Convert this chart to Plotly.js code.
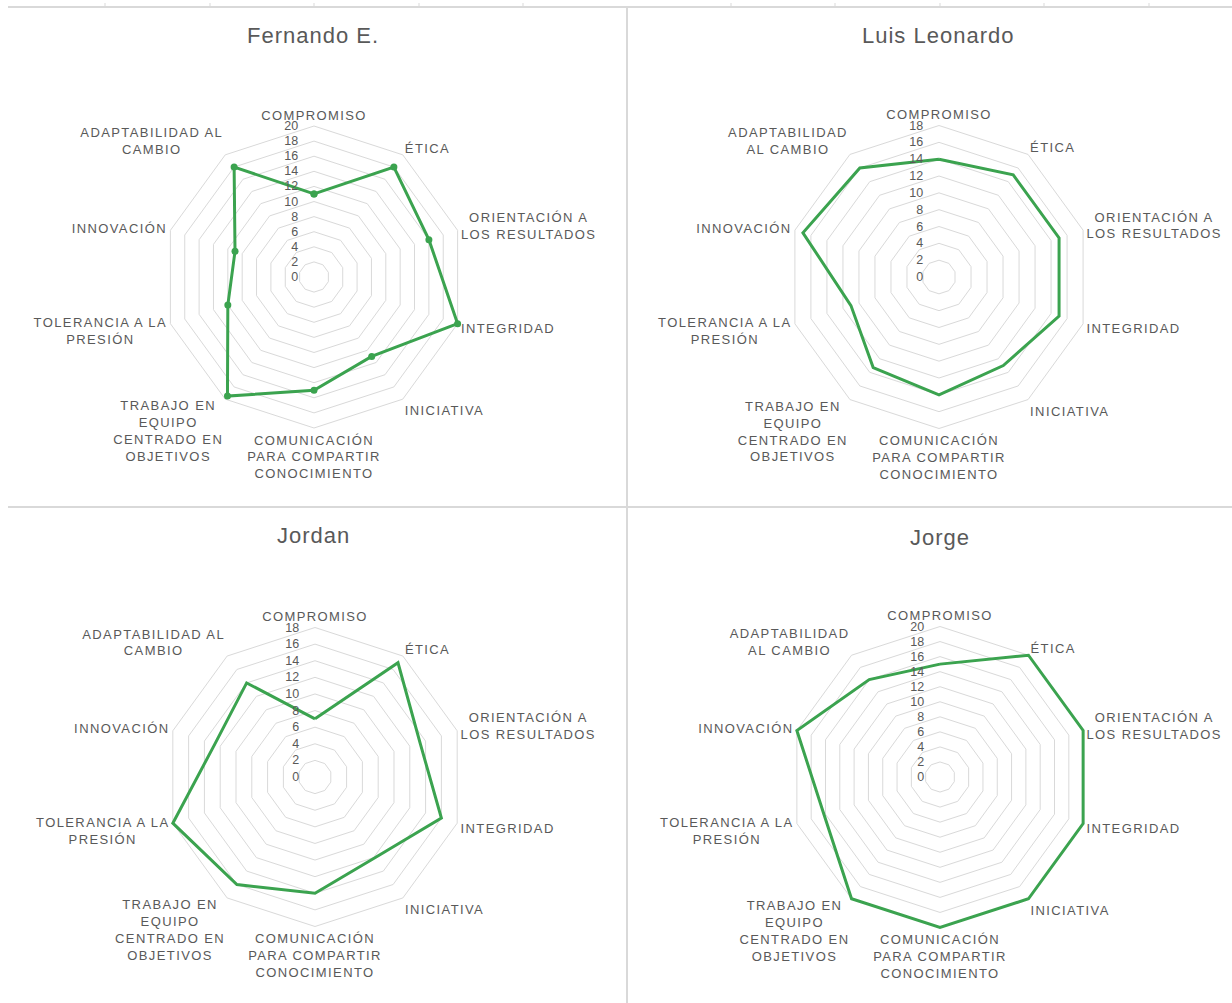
<!DOCTYPE html>
<html>
<head>
<meta charset="utf-8">
<script src="https://cdn.plot.ly/plotly-3.0.1.min.js"></script>
<style>
  html, body { margin: 0; padding: 0; background: #ffffff; }
  #chart { width: 1232px; height: 1003px; }
  .angularaxistick text { letter-spacing: 1.4px; }
  .radialaxistick text { letter-spacing: 1.2px; }
  .annotation-text { letter-spacing: 1px; }
</style>
</head>
<body>
<div id="chart"></div>
<script>
// ---- Data ----
const categories = [
  "COMPROMISO", "ÉTICA", "ORIENTACIÓN A LOS RESULTADOS", "INTEGRIDAD", "INICIATIVA",
  "COMUNICACIÓN PARA COMPARTIR CONOCIMIENTO", "TRABAJO EN EQUIPO CENTRADO EN OBJETIVOS",
  "TOLERANCIA A LA PRESIÓN", "INNOVACIÓN", "ADAPTABILIDAD AL CAMBIO"
];
const labelsA = [
  "COMPROMISO", "ÉTICA", "ORIENTACIÓN A<br>LOS RESULTADOS", "INTEGRIDAD", "INICIATIVA",
  "COMUNICACIÓN<br>PARA COMPARTIR<br>CONOCIMIENTO", "TRABAJO EN<br>EQUIPO<br>CENTRADO EN<br>OBJETIVOS",
  "TOLERANCIA A LA<br>PRESIÓN", "INNOVACIÓN", "ADAPTABILIDAD AL<br>CAMBIO"
];
const labelsB = [
  "COMPROMISO", "ÉTICA", "ORIENTACIÓN A<br>LOS RESULTADOS", "INTEGRIDAD", "INICIATIVA",
  "COMUNICACIÓN<br>PARA COMPARTIR<br>CONOCIMIENTO", "TRABAJO EN<br>EQUIPO<br>CENTRADO EN<br>OBJETIVOS",
  "TOLERANCIA A LA<br>PRESIÓN", "INNOVACIÓN", "ADAPTABILIDAD<br>AL CAMBIO"
];
const names = ["Fernando E.", "Luis Leonardo", "Jordan", "Jorge"];
const fernando = [11, 18, 16, 20, 13, 15, 19.5, 12, 11, 18];
const luis     = [14, 15, 15, 15, 13, 14, 13.3, 11, 17, 16];
const jordan   = [7, 17, 13.3, 16, 12.1, 14, 16, 18, 12.7, 14];
const jorge    = [15, 20, 20, 20, 20, 20, 20, 16.2, 20, 16];
const axisMax  = [20, 18, 18, 20];

// ---- Layout helpers ----
const W = 1232, H = 1003;
const green = "#3BA34F";
const txt = "#595959";
const grid = "#d9d9d9";
const FONT = "Liberation Sans, Arial, sans-serif";
const PAD = 1.02; // small headroom so lines at the top value are not clipped

// panel geometry: center (px) and radius of the top gridline (px)
const panels = [
  {cx: 314, cy: 277, r: 151, labels: labelsA, vals: fernando, markers: true},
  {cx: 939, cy: 277, r: 151.5, labels: labelsB, vals: luis, markers: false},
  {cx: 315, cy: 777, r: 149.5, labels: labelsA, vals: jordan, markers: false},
  {cx: 940, cy: 777, r: 150.5, labels: labelsB, vals: jorge, markers: false}
];
const titlePos = [[313, 35], [938, 35], [313, 535], [940, 537]];

const data = [];
const layout = {
  width: W, height: H,
  margin: {l: 0, r: 0, t: 0, b: 0},
  paper_bgcolor: "#ffffff",
  showlegend: false,
  font: {family: FONT, color: txt},
  annotations: [],
  shapes: []
};

panels.forEach((p, i) => {
  const key = i === 0 ? "polar" : "polar" + (i + 1);
  const r = p.vals.concat([p.vals[0]]);
  const th = categories.concat([categories[0]]);
  const R = p.r * PAD;
  data.push({
    type: "scatterpolar",
    r: r, theta: th,
    subplot: key,
    mode: p.markers ? "lines+markers" : "lines",
    line: {color: green, width: 3},
    marker: {color: green, size: 7},
    cliponaxis: false,
    hoverinfo: "skip"
  });
  layout[key] = {
    domain: {
      x: [(p.cx - R) / W, (p.cx + R) / W],
      y: [1 - (p.cy + R) / H, 1 - (p.cy - R) / H]
    },
    gridshape: "linear",
    bgcolor: "#ffffff",
    radialaxis: {
      range: [0, axisMax[i] * PAD],
      dtick: 2, tick0: 0,
      angle: 90,
      side: "counterclockwise",
      tickangle: 90,
      showline: false,
      ticks: "outside",
      ticklen: 11,
      tickcolor: "rgba(0,0,0,0)",
      gridcolor: grid, gridwidth: 1,
      tickfont: {family: FONT, size: 12.5, color: txt}
    },
    angularaxis: {
      type: "category",
      categoryarray: categories,
      tickmode: "array",
      tickvals: categories,
      ticktext: p.labels,
      rotation: 90,
      direction: "clockwise",
      showgrid: false,
      showline: false,
      ticks: "",
      tickfont: {family: FONT, size: 13, color: txt}
    }
  };
  layout.annotations.push({
    text: names[i],
    xref: "paper", yref: "paper",
    x: titlePos[i][0] / W, y: 1 - titlePos[i][1] / H,
    xanchor: "center", yanchor: "middle",
    showarrow: false,
    font: {family: FONT, size: 22, color: txt}
  });
});

// panel borders (sheet-like)
const lineStyle = {color: grid, width: 2};
layout.shapes.push({type: "line", xref: "paper", yref: "paper", x0: 8 / W, x1: 1, y0: 1 - 7 / H, y1: 1 - 7 / H, line: lineStyle});
layout.shapes.push({type: "line", xref: "paper", yref: "paper", x0: 8 / W, x1: 1, y0: 1 - 507 / H, y1: 1 - 507 / H, line: lineStyle});
layout.shapes.push({type: "line", xref: "paper", yref: "paper", x0: 627 / W, x1: 627 / W, y0: 0, y1: 1 - 7 / H, line: lineStyle});
[105, 210, 314, 419, 523, 731, 835, 940, 1044, 1149].forEach(x => {
  layout.shapes.push({type: "line", xref: "paper", yref: "paper", x0: x / W, x1: x / W, y0: 1 - 3 / H, y1: 1 - 7 / H, line: {color: grid, width: 1}});
});

Plotly.newPlot("chart", data, layout, {staticPlot: true, displayModeBar: false}).then(() => {
  // centre multi-line category labels within their block (as the spreadsheet does)
  document.querySelectorAll(".angularaxistick text").forEach(t => {
    const lines = t.querySelectorAll("tspan.line");
    if (lines.length < 2) return;
    const anchor = t.getAttribute("text-anchor");
    if (!anchor || anchor === "middle") return;
    const w = t.getBBox().width;
    const x = parseFloat(t.getAttribute("x")) || 0;
    const nx = anchor === "end" ? x - w / 2 : x + w / 2;
    t.setAttribute("text-anchor", "middle");
    t.setAttribute("x", nx);
    lines.forEach(s => s.setAttribute("x", nx));
  });
});
</script>
</body>
</html>
